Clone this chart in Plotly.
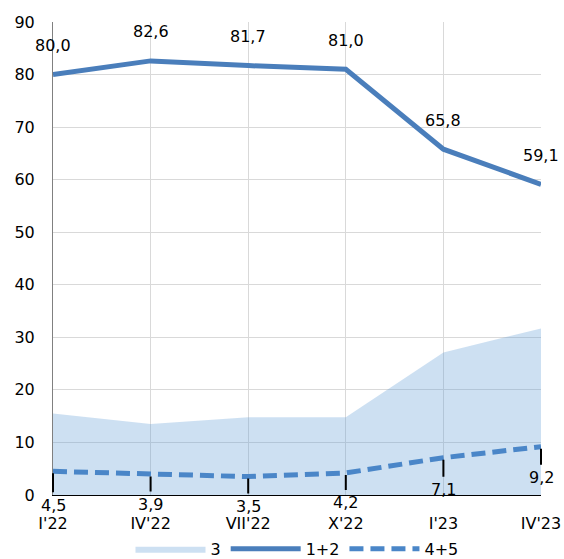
import plotly.graph_objects as go

categories = ["I'22", "IV'22", "VII'22", "X'22", "I'23", "IV'23"]
s3 = [15.5, 13.5, 14.8, 14.8, 27.1, 31.7]
s12 = [80.0, 82.6, 81.7, 81.0, 65.8, 59.1]
s45 = [4.5, 3.9, 3.5, 4.2, 7.1, 9.2]
y_ticks = list(range(0, 91, 10))

FONT = "DejaVu Sans"
def fmt(v):
    return f"{v:.1f}".replace(".", ",")

fig = go.Figure()
fig.add_trace(go.Scatter(
    x=categories, y=s3, name="3", mode="lines", fill="tozeroy",
    fillcolor="rgba(100,160,215,0.32)", line=dict(width=0, color="rgba(100,160,215,0.32)"),
))
fig.add_trace(go.Scatter(
    x=categories, y=s12, name="1+2", mode="lines",
    line=dict(color="#4a7ebb", width=5),
))
fig.add_trace(go.Scatter(
    x=categories, y=s45, name="4+5", mode="lines",
    line=dict(color="#4a86c8", width=5, dash="14px,7px"),
))

annotations = []
for c, v in zip(categories, s12):
    annotations.append(dict(x=c, y=v, text=fmt(v), showarrow=False, yshift=29,
                            font=dict(family=FONT, size=16, color="black")))
lab_off = [34, 30, 30, 30, 32, 31]
for c, v, off in zip(categories, s45, lab_off):
    annotations.append(dict(x=c, y=v, text=fmt(v), showarrow=True, ax=0, ay=off,
                            arrowhead=0, arrowwidth=2, arrowcolor="black", standoff=2,
                            borderpad=3,
                            font=dict(family=FONT, size=16, color="black")))

fig.update_layout(
    width=564, height=559,
    margin=dict(l=53, r=23, t=22, b=64, autoexpand=False),
    paper_bgcolor="white", plot_bgcolor="white",
    font=dict(family=FONT, size=16, color="black"),
    showlegend=True,
    legend=dict(orientation="h", x=0.5, xanchor="center", y=-0.114, yanchor="middle",
                itemwidth=70, font=dict(family=FONT, size=16, color="black"),
                traceorder="normal"),
    annotations=annotations,
    xaxis=dict(type="category", range=[0, 5], showgrid=True, gridcolor="#d9d9d9",
               showline=True, linecolor="black", linewidth=1, ticks="", automargin=False,
               ticklabelstandoff=14, tickfont=dict(family=FONT, size=16, color="black"),
               zeroline=False, fixedrange=True),
    yaxis=dict(range=[0, 90], tickvals=y_ticks, showgrid=True, gridcolor="#d9d9d9",
               showline=True, linecolor="#808080", linewidth=1, ticks="", automargin=False,
               ticklabelstandoff=14, tickfont=dict(family=FONT, size=16, color="black"),
               zeroline=False, fixedrange=True),
)

fig.write_html("out.html")
